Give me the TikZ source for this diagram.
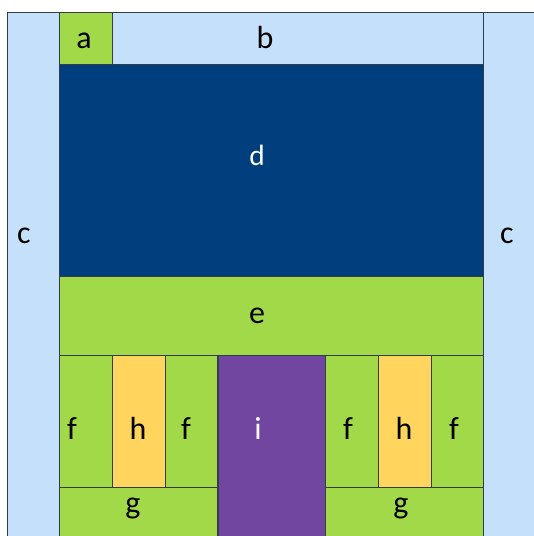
\documentclass[tikz,border=0pt]{standalone}
\usepackage{fontspec}
\setmainfont{Carlito}
\usetikzlibrary{fit,positioning}
\definecolor{paleblue}{RGB}{197,224,250}
\definecolor{leafgreen}{RGB}{162,217,72}
\definecolor{navyblue}{RGB}{0,62,126}
\definecolor{plumpurple}{RGB}{112,70,160}
\definecolor{sunyellow}{RGB}{255,213,94}
\definecolor{edgegray}{RGB}{50,60,75}
\tikzset{
    % Cell styles
    cell/.style={
        draw=edgegray,
        line width=0.6pt,
        rectangle,
        inner sep=0pt,
        outer sep=0pt
    },
    pale cell/.style={cell, fill=paleblue},
    green cell/.style={cell, fill=leafgreen},
    navy cell/.style={cell, fill=navyblue},
    plum cell/.style={cell, fill=plumpurple},
    sun cell/.style={cell, fill=sunyellow},
    % Label style
    tag/.style={
        anchor=base,
        inner sep=0pt,
        font=\fontsize{24}{28}\selectfont
    }
}

\begin{document}
\begin{tikzpicture}[x=0.75pt, y=-0.75pt]
    \useasboundingbox (0,0) rectangle (534,536);

    % Side columns and top strip
    \node[pale cell, fit={(7,12) (59,560)}] (cl) {};
    \node[pale cell, fit={(483,12) (560,560)}] (cr) {};
    \node[pale cell, fit={(59,12) (483,64)}] (b) {};
    \node[green cell, fit={(59,12) (112,64)}] (a) {};

    % Middle blocks
    \node[navy cell, fit={(59,64) (483,276)}] (d) {};
    \node[green cell, fit={(59,276) (483,355)}] (e) {};
    \node[plum cell, fit={(218,355) (325,560)}] (i) {};

    % Lower groups
    \foreach \s/\x in {l/59, r/325} {
        \node[green cell, fit={(\x,355) (\x+53,487)}] (f1\s) {};
        \node[sun cell, fit={(\x+53,355) (\x+106,487)}] (h\s) {};
        \node[green cell, fit={(\x+106,355) (\x+158,487)}] (f2\s) {};
        \node[green cell, fit={(\x,487) (\x+158,560)}] (g\s) {};
    }

    % Labels
    \node[tag] (ta) at (84,48) {a};
    \node[tag] (tb) at (265,48) {b};
    \node[tag] (tcl) at (24,243) {c};
    \node[tag] (tcr) at (507,243) {c};
    \node[tag, white, font=\fontsize{22}{26}\selectfont] (td) at (257,165) {d};
    \node[tag] (te) at (257,323) {e};
    \foreach \n/\x/\t in {1/72/f, 2/138/h, 3/186/f, 5/348/f, 6/404/h, 7/454/f} {
        \node[tag] (t\n) at (\x,439) {\t};
    }
    \node[tag, white] (ti) at (258,439) {i};
    \node[tag] (tgl) at (133,513) {g};
    \node[tag] (tgr) at (401,513) {g};
\end{tikzpicture}
\end{document}
